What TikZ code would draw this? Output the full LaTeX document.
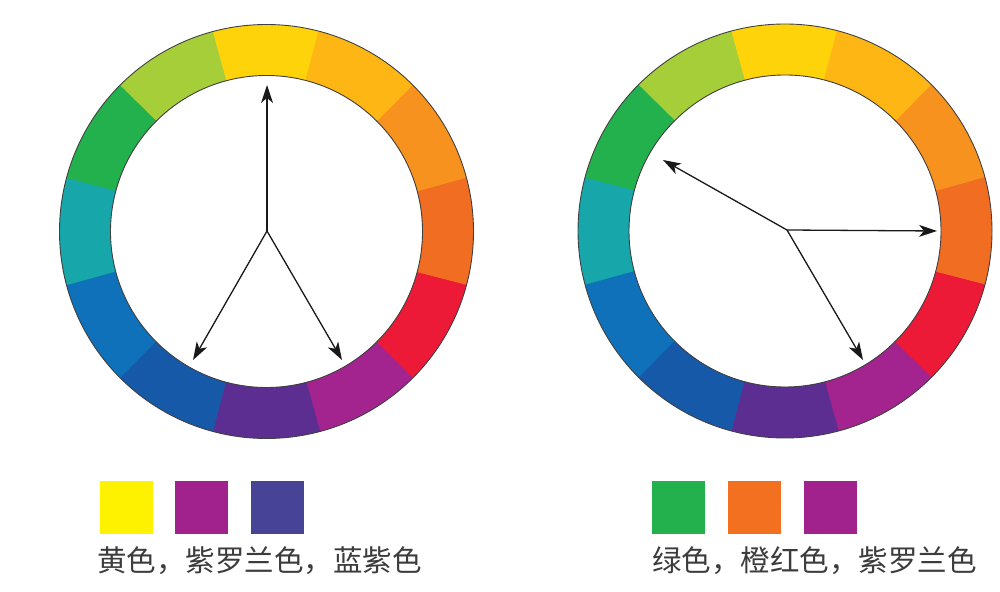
\documentclass[tikz,border=0pt]{standalone}
\usepackage{fontspec}
\newfontfamily\cjk{Noto Sans CJK SC}
\usetikzlibrary{calc}

\definecolor{wYellow}{HTML}{FFD30A}
\definecolor{wYelOrange}{HTML}{FDB614}
\definecolor{wOrange}{HTML}{F7921E}
\definecolor{wRedOrange}{HTML}{F06D22}
\definecolor{wRed}{HTML}{EC1A36}
\definecolor{wViolet}{HTML}{A3238F}
\definecolor{wPurple}{HTML}{5C2E91}
\definecolor{wDarkBlue}{HTML}{1659A8}
\definecolor{wBlue}{HTML}{0E71B9}
\definecolor{wTeal}{HTML}{17A6A9}
\definecolor{wGreen}{HTML}{22B14C}
\definecolor{wYelGreen}{HTML}{A6CE39}
\definecolor{sYellow}{HTML}{FFF200}
\definecolor{sViolet}{HTML}{A2228D}
\definecolor{sBlueViolet}{HTML}{474498}
\definecolor{sGreen}{HTML}{22B14C}
\definecolor{sOrange}{HTML}{F37021}
\definecolor{capGray}{HTML}{3C3C3C}

\tikzset{
  seg/.style={line width=51pt},
  rim/.style={draw=black!75, line width=0.9pt},
  pointer/.style={line width=1.3pt, draw=black!90, shorten >=8pt},
  pointerhead/.style={fill=black!90},
  swatch/.style={minimum size=53pt, inner sep=0pt},
  caption/.style={font=\cjk\fontsize{29.5}{30}\selectfont, text=capGray, inner sep=0pt, anchor=west}
}
% filled head at #2, pointing away from #1
\newcommand{\headat}[2]{%
  \fill [pointerhead] (#2) -- ($($(#2)!18pt!(#1)$)!6pt!90:(#2)$)
    -- ($(#2)!13pt!(#1)$) -- ($($(#2)!18pt!(#1)$)!6pt!-90:(#2)$) -- cycle;}

\begin{document}
\begin{tikzpicture}[x=1pt,y=1pt]
\useasboundingbox (0,0) rectangle (1000,591);
% left wheel
\coordinate (lc) at (266.5,359.5);
\draw [seg,wYellow] (lc) ++(75:181.5) arc (75:105.5:181.5);
\draw [seg,wYelGreen] (lc) ++(105:181.5) arc (105:135.5:181.5);
\draw [seg,wGreen] (lc) ++(135:181.5) arc (135:165.5:181.5);
\draw [seg,wTeal] (lc) ++(165:181.5) arc (165:195.5:181.5);
\draw [seg,wBlue] (lc) ++(195:181.5) arc (195:225.5:181.5);
\draw [seg,wDarkBlue] (lc) ++(225:181.5) arc (225:255.5:181.5);
\draw [seg,wPurple] (lc) ++(255:181.5) arc (255:285.5:181.5);
\draw [seg,wViolet] (lc) ++(285:181.5) arc (285:315.5:181.5);
\draw [seg,wRed] (lc) ++(315:181.5) arc (315:345.5:181.5);
\draw [seg,wRedOrange] (lc) ++(345:181.5) arc (345:375.5:181.5);
\draw [seg,wOrange] (lc) ++(15:181.5) arc (15:45.5:181.5);
\draw [seg,wYelOrange] (lc) ++(45:181.5) arc (45:75.5:181.5);
\draw [rim] (lc) circle (207);
\draw [rim] (lc) circle (156);
\coordinate (lhub) at (267,360);
\coordinate (lyellow) at (267,506);
\coordinate (lblue) at (193,231);
\coordinate (lviolet) at (342,231);
\draw [pointer] (lhub) -- (lyellow);
\draw [pointer] (lhub) -- (lblue);
\draw [pointer] (lhub) -- (lviolet);
\headat{lhub}{lyellow}
\headat{lhub}{lblue}
\headat{lhub}{lviolet}
% right wheel
\coordinate (rc) at (785,360);
\draw [seg,wYellow] (rc) ++(75:181.5) arc (75:105.5:181.5);
\draw [seg,wYelGreen] (rc) ++(105:181.5) arc (105:135.5:181.5);
\draw [seg,wGreen] (rc) ++(135:181.5) arc (135:165.5:181.5);
\draw [seg,wTeal] (rc) ++(165:181.5) arc (165:195.5:181.5);
\draw [seg,wBlue] (rc) ++(195:181.5) arc (195:225.5:181.5);
\draw [seg,wDarkBlue] (rc) ++(225:181.5) arc (225:255.5:181.5);
\draw [seg,wPurple] (rc) ++(255:181.5) arc (255:285.5:181.5);
\draw [seg,wViolet] (rc) ++(285:181.5) arc (285:315.5:181.5);
\draw [seg,wRed] (rc) ++(315:181.5) arc (315:345.5:181.5);
\draw [seg,wRedOrange] (rc) ++(345:181.5) arc (345:375.5:181.5);
\draw [seg,wOrange] (rc) ++(15:181.5) arc (15:45.5:181.5);
\draw [seg,wYelOrange] (rc) ++(45:181.5) arc (45:75.5:181.5);
\draw [rim] (rc) circle (207);
\draw [rim] (rc) circle (156);
\coordinate (rhub) at (787,361);
\coordinate (rgreen) at (663,431);
\coordinate (rorange) at (937,360);
\coordinate (rviolet) at (863,231);
\draw [pointer] (rhub) -- (rgreen);
\draw [pointer] (rhub) -- (rorange);
\draw [pointer] (rhub) -- (rviolet);
\headat{rhub}{rgreen}
\headat{rhub}{rorange}
\headat{rhub}{rviolet}
% swatches
\node [swatch,fill=sYellow] (sy) at (126,83.5) {};
\node [swatch,fill=sViolet] (sv) at (201.5,83.5) {};
\node [swatch,fill=sBlueViolet] (sb) at (277.5,83.5) {};
\node [caption] (lcap) at (97,30) {黄色，紫罗兰色，蓝紫色};
\node [swatch,fill=sGreen] (sg) at (678.7,83.5) {};
\node [swatch,fill=sOrange] (so) at (754,83.5) {};
\node [swatch,fill=sViolet] (sv2) at (830,83.5) {};
\node [caption] (rcap) at (652,30) {绿色，橙红色，紫罗兰色};
\end{tikzpicture}
\end{document}
